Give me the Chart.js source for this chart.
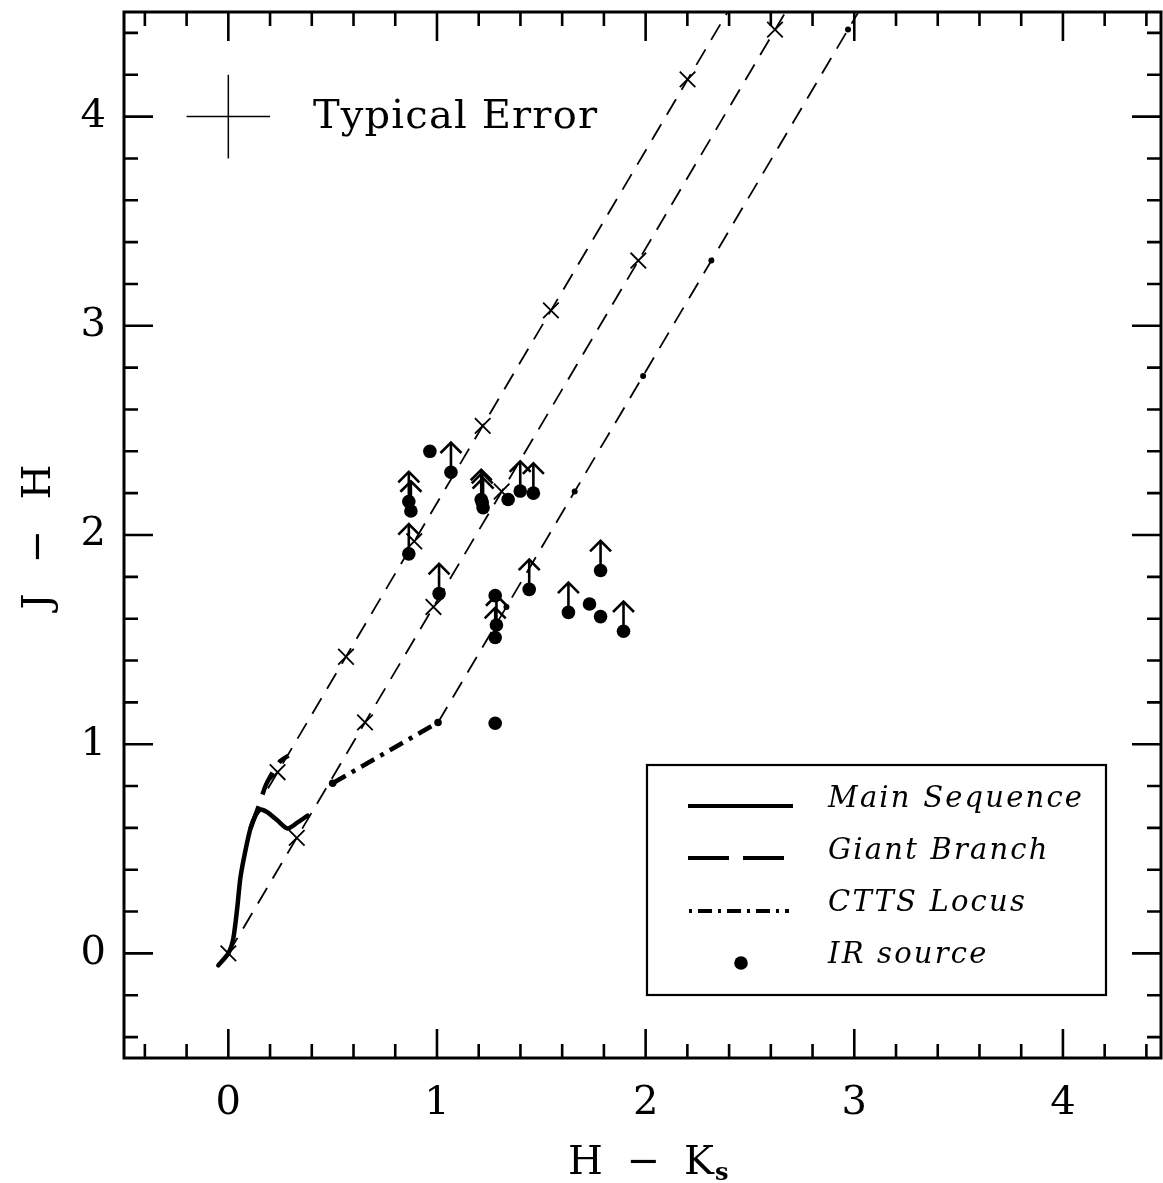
<!DOCTYPE html>
<html><head><meta charset="utf-8">
<script src="https://cdn.jsdelivr.net/npm/chart.js@4/dist/chart.umd.min.js"></script>
<style>html,body{margin:0;padding:0;background:#fff;}#wrap{width:1163px;height:1183px;}</style>
</head><body><div id="wrap"><canvas id="c" width="1163" height="1183"></canvas></div>
<script>
// ---- axis ----
const xRange = [-0.5, 4.47];
const yRange = [-0.5, 4.5];
const xTickValues = [0, 1, 2, 3, 4];
const xTickLabels = ['0', '1', '2', '3', '4'];
const yTickValues = [0, 1, 2, 3, 4];
const yTickLabels = ['0', '1', '2', '3', '4'];
const xTitle = 'H − K';
const xTitleSub = 's';
const yTitle = 'J − H';

// ---- loci ----
const msX = [-0.048, 0.0, 0.024, 0.043, 0.058, 0.082, 0.106, 0.130, 0.154, 0.188, 0.236, 0.284, 0.332, 0.380];
const msY = [-0.057, 0.0, 0.072, 0.22, 0.363, 0.492, 0.597, 0.659, 0.688, 0.674, 0.635, 0.597, 0.626, 0.659];
const gbX = [0.106, 0.144, 0.178, 0.215, 0.25, 0.288];
const gbY = [0.597, 0.70, 0.80, 0.87, 0.92, 0.945];
const cttsX = [0.50, 1.005];
const cttsY = [0.813, 1.104];

// ---- reddening vectors ----
const red1X = [0.19, 2.393];
const red1Y = [0.788, 4.50];
const red2X = [0.0, 2.671];
const red2Y = [0.0, 4.50];
const red3X = [1.005, 3.020];
const red3Y = [1.104, 4.50];
const avMark1X = [0.236, 0.564, 0.891, 1.219, 1.546, 2.201];
const avMark1Y = [0.866, 1.418, 1.970, 2.522, 3.074, 4.178];
const avMark2X = [0.0, 0.328, 0.655, 0.983, 1.310, 1.965, 2.620];
const avMark2Y = [0.0, 0.552, 1.104, 1.656, 2.208, 3.312, 4.416];
const avMark3X = [1.333, 1.660, 1.988, 2.315, 2.970];
const avMark3Y = [1.656, 2.208, 2.760, 3.312, 4.416];

// ---- IR sources ----
const irX = [0.966, 1.067, 0.865, 0.875, 0.865, 1.212, 1.217, 1.221, 1.341, 1.399, 1.462, 1.010, 1.279, 1.285, 1.279, 1.442, 1.279, 1.784, 1.630, 1.731, 1.784, 1.894];
const irY = [2.40, 2.30, 2.16, 2.115, 1.91, 2.17, 2.155, 2.13, 2.17, 2.21, 2.20, 1.72, 1.71, 1.57, 1.51, 1.74, 1.10, 1.83, 1.63, 1.67, 1.61, 1.54];
const irLowerLimit = [false, true, true, true, true, true, true, true, false, true, true, true, false, true, true, true, false, true, true, false, false, true];

// ---- typical error ----
const errCenter = [0, 4.0];
const errSize = [0.2, 0.2];

// ---- legend ----
const legendLabels = ['Main Sequence', 'Giant Branch', 'CTTS Locus', 'IR source'];
const errLabel = 'Typical Error';

const pts = (xs, ys) => xs.map((x, i) => ({x: x, y: ys[i]}));
const FONT = "'DejaVu Serif', serif";

const ds = [];
const thinDash = [18, 11];
[[red1X, red1Y], [red2X, red2Y], [red3X, red3Y]].forEach(([xs, ys]) => ds.push({
  data: pts(xs, ys), showLine: true, borderColor: '#000', borderWidth: 1.8, borderDash: thinDash, pointRadius: 0, fill: false
}));
[[avMark1X, avMark1Y], [avMark2X, avMark2Y]].forEach(([xs, ys]) => ds.push({
  data: pts(xs, ys), showLine: false, pointStyle: 'crossRot', pointRadius: 11, borderColor: '#000', pointBorderWidth: 1.8, backgroundColor: '#000'
}));
ds.push({data: pts(avMark3X, avMark3Y), showLine: false, pointStyle: 'circle', pointRadius: 3, borderWidth: 0, backgroundColor: '#000', borderColor: '#000'});
ds.push({data: pts(msX, msY), showLine: true, borderColor: '#000', borderWidth: 4.5, pointRadius: 0, tension: 0.25, borderCapStyle: 'round'});
ds.push({data: pts(gbX, gbY), showLine: true, borderColor: '#000', borderWidth: 4.5, borderDash: [24, 12], pointRadius: 0, tension: 0.2});
ds.push({data: pts(cttsX, cttsY), showLine: true, borderColor: '#000', borderWidth: 4.5, borderDash: [15, 7, 4, 7], pointRadius: 3.8, pointBackgroundColor: '#000', pointBorderWidth: 0});
ds.push({data: pts(irX, irY), showLine: false, pointStyle: 'circle', pointRadius: 6.8, backgroundColor: '#000', borderColor: '#000', borderWidth: 0});
ds.push({data: [{x: errCenter[0] - errSize[0], y: errCenter[1]}, {x: errCenter[0] + errSize[0], y: errCenter[1]}], showLine: true, borderColor: '#000', borderWidth: 1.5, pointRadius: 0});
ds.push({data: [{x: errCenter[0], y: errCenter[1] - errSize[1]}, {x: errCenter[0], y: errCenter[1] + errSize[1]}], showLine: true, borderColor: '#000', borderWidth: 1.5, pointRadius: 0});

function fitText(ctx, text, targetW) {
  ctx.letterSpacing = '0px';
  const w = ctx.measureText(text).width;
  return Math.max(0, (targetW - w) / Math.max(1, text.length - 1));
}

const decor = {
  id: 'decor',
  afterDatasetsDraw(chart) {
    const ctx = chart.ctx, xs = chart.scales.x, ys = chart.scales.y;
    ctx.save();
    ctx.strokeStyle = '#000'; ctx.lineWidth = 2.6; ctx.lineCap = 'butt'; ctx.lineJoin = 'miter';
    irX.forEach((x, i) => {
      if (!irLowerLimit[i]) return;
      const px = xs.getPixelForValue(x), py = ys.getPixelForValue(irY[i]);
      const tip = ys.getPixelForValue(irY[i] + 0.142);
      ctx.beginPath(); ctx.moveTo(px, py); ctx.lineTo(px, tip); ctx.stroke();
      ctx.beginPath(); ctx.moveTo(px - 10.5, tip + 10.5); ctx.lineTo(px, tip); ctx.lineTo(px + 10.5, tip + 10.5); ctx.stroke();
    });
    ctx.restore();
  },
  afterDraw(chart) {
    const ctx = chart.ctx, xs = chart.scales.x, ys = chart.scales.y, a = chart.chartArea;
    ctx.save();
    ctx.fillStyle = '#fff';
    ctx.fillRect(a.left + 1, 0, a.right - a.left, a.top - 1);
    // frame
    ctx.strokeStyle = '#000'; ctx.lineWidth = 3;
    ctx.strokeRect(a.left, a.top, a.right - a.left, a.bottom - a.top);
    // ticks
    ctx.lineWidth = 2.6; ctx.lineCap = 'butt';
    ctx.beginPath();
    for (let k = -2; k <= 22; k++) {
      const v = k / 5;
      const major = k % 5 === 0;
      const L = major ? 29 : 14;
      if (v > xRange[0] && v < xRange[1]) {
        const px = xs.getPixelForValue(v);
        ctx.moveTo(px, a.bottom); ctx.lineTo(px, a.bottom - L);
        ctx.moveTo(px, a.top); ctx.lineTo(px, a.top + L);
      }
      if (v > yRange[0] && v < yRange[1]) {
        const py = ys.getPixelForValue(v);
        ctx.moveTo(a.left, py); ctx.lineTo(a.left + L, py);
        ctx.moveTo(a.right, py); ctx.lineTo(a.right - L, py);
      }
    }
    ctx.stroke();

    // axis titles
    ctx.fillStyle = '#000';
    ctx.font = `40px ${FONT}`;
    ctx.textBaseline = 'alphabetic';
    ctx.textAlign = 'left';
    ctx.letterSpacing = fitText(ctx, xTitle, 146) + 'px';
    ctx.fillText(xTitle, 568, 1174);
    ctx.letterSpacing = '0px';
    ctx.font = `bold 24px ${FONT}`;
    ctx.fillText(xTitleSub, 715, 1180);

    ctx.font = `40px ${FONT}`;
    const lsY = fitText(ctx, yTitle, 145);
    ctx.save();
    ctx.translate(50, 537);
    ctx.rotate(-Math.PI / 2);
    ctx.textAlign = 'center';
    ctx.letterSpacing = lsY + 'px';
    ctx.fillText(yTitle, lsY / 2, 0);
    ctx.restore();

    // typical error label
    ctx.font = `40px ${FONT}`;
    ctx.textAlign = 'left';
    ctx.letterSpacing = fitText(ctx, errLabel, 284) + 'px';
    ctx.fillText(errLabel, 313, 128);

    // legend box
    ctx.letterSpacing = '0px';
    ctx.lineWidth = 2.2;
    ctx.strokeRect(647, 765, 459, 230);
    ctx.font = `italic 29px ${FONT}`;
    const ls = fitText(ctx, legendLabels[0], 254);
    ctx.letterSpacing = ls + 'px';
    const base = [807, 859, 911, 963];
    legendLabels.forEach((t, i) => ctx.fillText(t, 828, base[i]));
    ctx.letterSpacing = '0px';
    ctx.lineWidth = 4;
    ctx.setLineDash([]);
    ctx.beginPath(); ctx.moveTo(688, 806); ctx.lineTo(793, 806); ctx.stroke();
    ctx.setLineDash([41, 14]);
    ctx.beginPath(); ctx.moveTo(688, 858); ctx.lineTo(785, 858); ctx.stroke();
    ctx.setLineDash([3, 6, 14, 6]);
    ctx.beginPath(); ctx.moveTo(689, 911); ctx.lineTo(789, 911); ctx.stroke();
    ctx.setLineDash([]);
    ctx.beginPath(); ctx.arc(741, 963, 6.8, 0, Math.PI * 2); ctx.fill();
    ctx.restore();
  }
};

new Chart(document.getElementById('c'), {
  type: 'scatter',
  data: {datasets: ds},
  options: {
    responsive: false, animation: false, devicePixelRatio: 1,
    layout: {autoPadding: false, padding: {top: 12, right: 2, left: 0, bottom: 0}},
    plugins: {legend: {display: false}, tooltip: {enabled: false}},
    elements: {line: {borderJoinStyle: 'round'}},
    scales: {
      x: {
        type: 'linear', min: xRange[0], max: xRange[1],
        grid: {display: false, drawTicks: false}, border: {display: false},
        ticks: {color: '#000', font: {family: FONT, size: 40}, padding: 22, maxRotation: 0,
          callback: (v) => { const i = xTickValues.indexOf(v); return i >= 0 ? xTickLabels[i] : ''; }},
        afterBuildTicks: (s) => { s.ticks = xTickValues.map(v => ({value: v})); },
        afterFit: (s) => { s.height = 125; s.paddingLeft = 0; s.paddingRight = 0; }
      },
      y: {
        type: 'linear', min: yRange[0], max: yRange[1],
        grid: {display: false, drawTicks: false}, border: {display: false},
        ticks: {color: '#000', font: {family: FONT, size: 40}, padding: 18,
          callback: (v) => { const i = yTickValues.indexOf(v); return i >= 0 ? yTickLabels[i] : ''; }},
        afterBuildTicks: (s) => { s.ticks = yTickValues.map(v => ({value: v})); },
        afterFit: (s) => { s.width = 124; s.paddingTop = 0; s.paddingBottom = 0; }
      }
    }
  },
  plugins: [decor]
});
</script></body></html>
